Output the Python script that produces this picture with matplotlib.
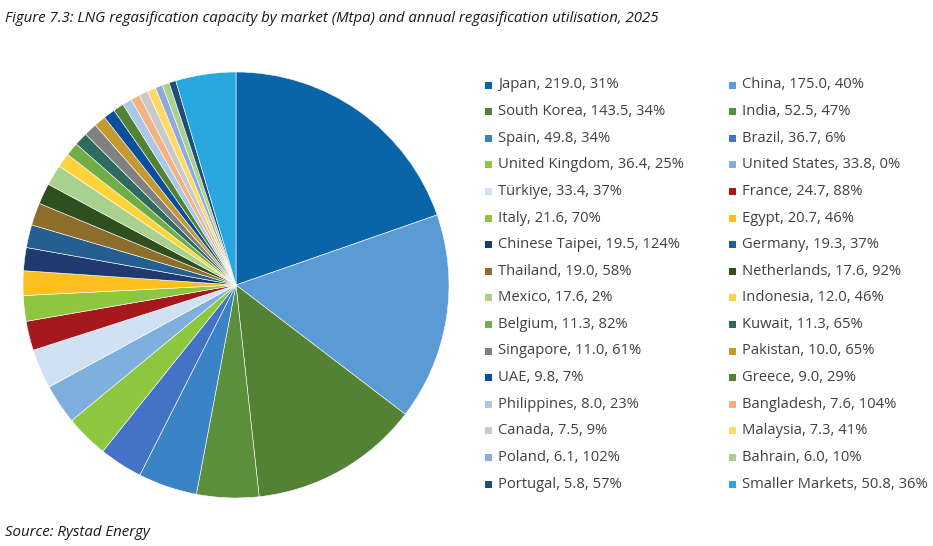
import matplotlib.pyplot as plt
from matplotlib.patches import Rectangle

markets = ['Japan', 'China', 'South Korea', 'India', 'Spain', 'Brazil',
           'United Kingdom', 'United States', 'Türkiye', 'France', 'Italy', 'Egypt',
           'Chinese Taipei', 'Germany', 'Thailand', 'Netherlands', 'Mexico', 'Indonesia',
           'Belgium', 'Kuwait', 'Singapore', 'Pakistan', 'UAE', 'Greece',
           'Philippines', 'Bangladesh', 'Canada', 'Malaysia', 'Poland', 'Bahrain',
           'Portugal', 'Smaller Markets']
capacity = [219.0, 175.0, 143.5, 52.5, 49.8, 36.7,
            36.4, 33.8, 33.4, 24.7, 21.6, 20.7,
            19.5, 19.3, 19.0, 17.6, 17.6, 12.0,
            11.3, 11.3, 11.0, 10.0, 9.8, 9.0,
            8.0, 7.6, 7.5, 7.3, 6.1, 6.0,
            5.8, 50.8]
utilisation = [31, 40, 34, 47, 34, 6,
               25, 0, 37, 88, 70, 46,
               124, 37, 58, 92, 2, 46,
               82, 65, 61, 65, 7, 29,
               23, 104, 9, 41, 102, 10,
               57, 36]
colors = ['#0a64a8', '#5b9bd5', '#548235', '#5b8f3c', '#3a84c6', '#4472c4',
          '#8dc63f', '#7fb0dd', '#cfe2f3', '#a5191e', '#8dc63f', '#fbbf1f',
          '#1f3a6e', '#255e91', '#8c6d2c', '#2f4f1f', '#a9d18e', '#ffd43b',
          '#70ad47', '#2f6b5e', '#808080', '#c49a2f', '#0b4f9c', '#548235',
          '#a9c8e8', '#f4b183', '#c9c9c9', '#ffd966', '#8eaadb', '#a9d18e',
          '#1f4e79', '#29a8e0']

W, H = 933, 546
fig = plt.figure(figsize=(W / 100, H / 100), dpi=100)

# pie
cx, cy, r = 236, 285, 213
ax = fig.add_axes([(cx - r) / W, (H - cy - r) / H, 2 * r / W, 2 * r / H])
ax.pie(capacity, colors=colors, startangle=90, counterclock=False, radius=1,
       wedgeprops=dict(linewidth=0.4, edgecolor='white'))
ax.set_xlim(-1, 1)
ax.set_ylim(-1, 1)
ax.set_aspect('equal')
ax.axis('off')

# legend, row-wise in two columns
col_x = [485, 729]
row_y0 = 85
row_dy = 26.6
for i, (m, c, u, col) in enumerate(zip(markets, capacity, utilisation, colors)):
    x = col_x[i % 2]
    y = row_y0 + (i // 2) * row_dy
    fig.patches.append(Rectangle(((x) / W, (H - y - 3.5) / H), 7 / W, 7 / H,
                                 transform=fig.transFigure, facecolor=col,
                                 edgecolor='none'))
    fig.text((x + 13) / W, (H - y) / H, f'{m}, {c:.1f}, {u}%',
             fontsize=10.6, family='Open Sans', color='#404040', va='center')

fig.text(5 / W, (H - 18) / H,
         'Figure 7.3: LNG regasification capacity by market (Mtpa) and annual regasification utilisation, 2025',
         fontsize=10.8, style='italic', family='Open Sans', color='#1a1a1a',
         va='center')
fig.text(5 / W, (H - 533) / H, 'Source: Rystad Energy', fontsize=10.8,
         style='italic', family='Open Sans', color='#1a1a1a', va='center')

fig.savefig('out.png', dpi=100)
